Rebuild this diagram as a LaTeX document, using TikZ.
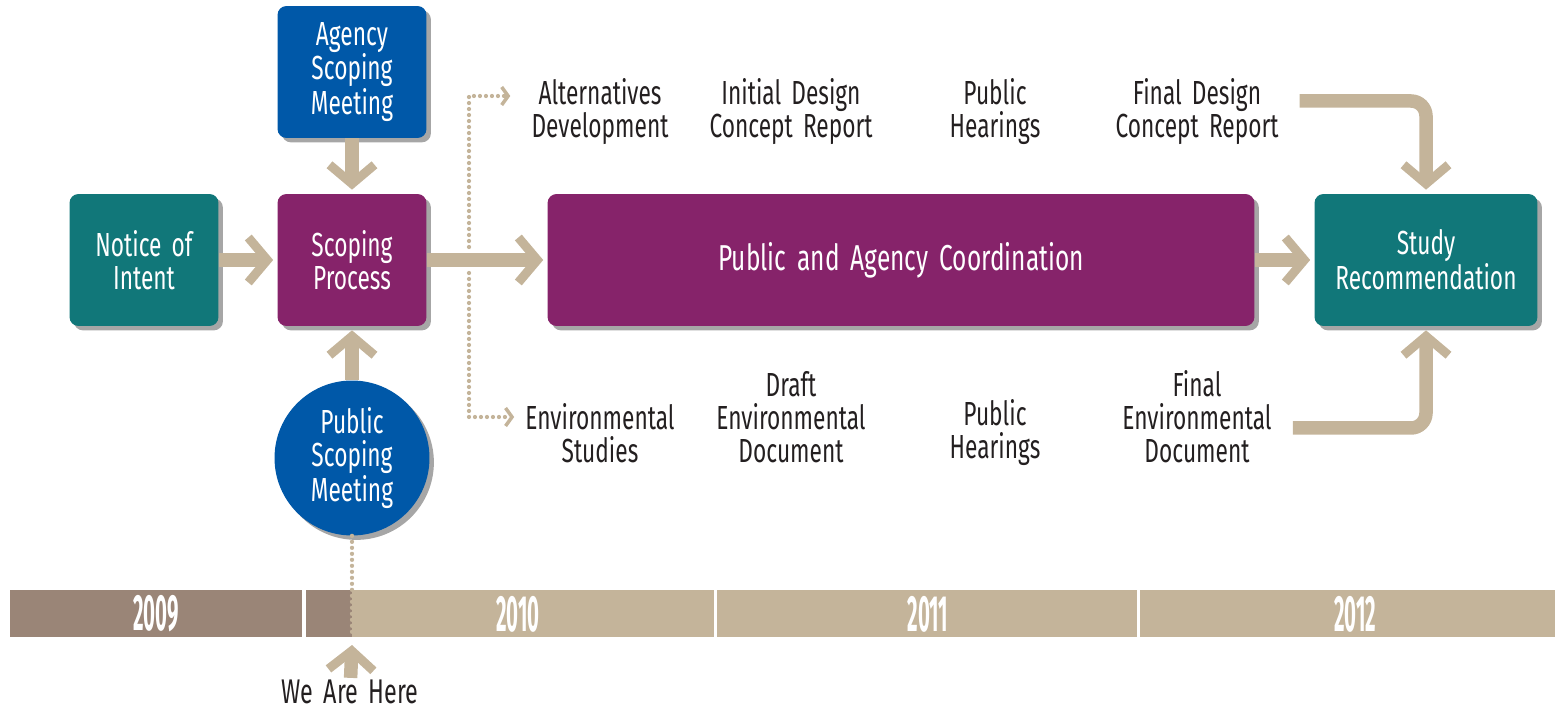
\documentclass[tikz,border=0pt]{standalone}
\usepackage{fontspec}
\setmainfont{Fira Sans}[FakeStretch=0.68,WordSpace=1.7]
\newfontfamily\yearfont{Fira Sans}[FakeStretch=0.4]
\usetikzlibrary{arrows.meta,shadows}
\begin{document}
\begin{tikzpicture}[x=0.02cm,y=-0.02cm,
  stagebox/.style={rounded corners=0.18cm,minimum width=2.98cm,minimum height=2.64cm,
    inner sep=0pt,text=white,align=center,font=\fontsize{19}{18.8}\selectfont,
    drop shadow={shadow xshift=2.5pt,shadow yshift=-2.5pt,opacity=0.35,fill=black}},
  stagetext/.style={align=center,text=customcolor0,font=\fontsize{19}{18.8}\selectfont},
  yeartext/.style={text=white,font=\fontsize{29}{29}\yearfont\bfseries},
  bigarrow/.style={customcolor4,line width=0.27cm,shorten >=0.08cm,
    -{Straight Barb[length=0.38cm,width=0.9cm,line width=0.18cm]}},
  dotline/.style={customcolor4,line width=0.085cm,line cap=round,dash pattern=on 0pt off 0.12cm},
  dotarrow/.style={dotline,-{Straight Barb[length=0.13cm,width=0.36cm,line width=0.07cm]}}]
\definecolor{customcolor0}{HTML}{231F20}
\definecolor{customcolor1}{HTML}{0058A8}
\definecolor{customcolor2}{HTML}{117779}
\definecolor{customcolor3}{HTML}{86236A}
\definecolor{customcolor4}{HTML}{C4B49A}
\definecolor{customcolor5}{HTML}{9A8577}
\useasboundingbox (0,0) rectangle (1555,712);
% boxes
\node[stagebox,fill=customcolor1] (asm) at (352,72) {Agency\\Scoping\\Meeting};
\node[stagebox,fill=customcolor2] (noi) at (144,260) {Notice of\\Intent};
\node[stagebox,fill=customcolor3] (sp) at (352,260) {Scoping\\Process};
\node[stagebox,circle,minimum size=3.1cm,fill=customcolor1] (psm) at (352,458) {Public\\Scoping\\Meeting};
\node[stagebox,fill=customcolor3,minimum width=14.14cm,font=\fontsize{20.5}{20}\selectfont] (pac) at (901,260) {Public and Agency Coordination};
\node[stagebox,fill=customcolor2,minimum width=4.46cm] (sr) at (1426,260) {Study\\Recommendation};
% steps above and below
\node[stagetext] (ad) at (600,112) {Alternatives\\Development};
\node[stagetext] (idcr) at (791,112) {Initial Design\\Concept Report};
\node[stagetext] (ph1) at (995,112) {Public\\Hearings};
\node[stagetext] (fdcr) at (1197,112) {Final Design\\Concept Report};
\node[stagetext] (es) at (600,433) {Environmental\\Studies};
\node[stagetext] (ded) at (791,417) {Draft\\Environmental\\Document};
\node[stagetext] (ph2) at (995,433) {Public\\Hearings};
\node[stagetext] (fed) at (1197,417) {Final\\Environmental\\Document};
% arrows
\draw[bigarrow] (noi) -- (sp);
\draw[bigarrow] (asm) -- (sp);
\draw[bigarrow] (psm) -- (sp);
\draw[bigarrow] (sp) -- (pac);
\draw[bigarrow] (pac) -- (sr);
\draw[bigarrow,rounded corners=0.3cm] ([xshift=0.3cm,yshift=0.22cm]fdcr.east) -| (sr.north);
\draw[bigarrow,rounded corners=0.3cm] ([xshift=0.3cm,yshift=-0.22cm]fed.east) -| (sr.south);
% dotted branches
\coordinate (dtop) at (469,247);
\coordinate (dbot) at (469,273);
\draw[dotarrow] (dtop) |- ([xshift=-0.3cm,yshift=0.32cm]ad.west);
\draw[dotarrow] (dbot) |- ([xshift=-0.1cm,yshift=0.32cm]es.west);
% time line
\fill[customcolor5] (10,590) rectangle (302,637);
\fill[customcolor5] (306,590) rectangle (352,637);
\fill[customcolor4] (352,590) rectangle (714,637);
\fill[customcolor4] (717,590) rectangle (1137,637);
\fill[customcolor4] (1140,590) rectangle (1555,637);
\node[yeartext] (y2009) at (156,614) {2009};
\node[yeartext] (y2010) at (518,614) {2010};
\node[yeartext] (y2011) at (928,614) {2011};
\node[yeartext] (y2012) at (1355,614) {2012};
% we are here
\coordinate (now) at (352,637);
\coordinate (nowtip) at (352,645);
\draw[dotline] (psm) -- (now);
\node[stagetext,font=\fontsize{19.5}{19}\selectfont,inner sep=1pt] (wah) at (350,692) {We Are Here};
\draw[bigarrow,shorten >=0pt] (wah) -- (nowtip);
\end{tikzpicture}
\end{document}
